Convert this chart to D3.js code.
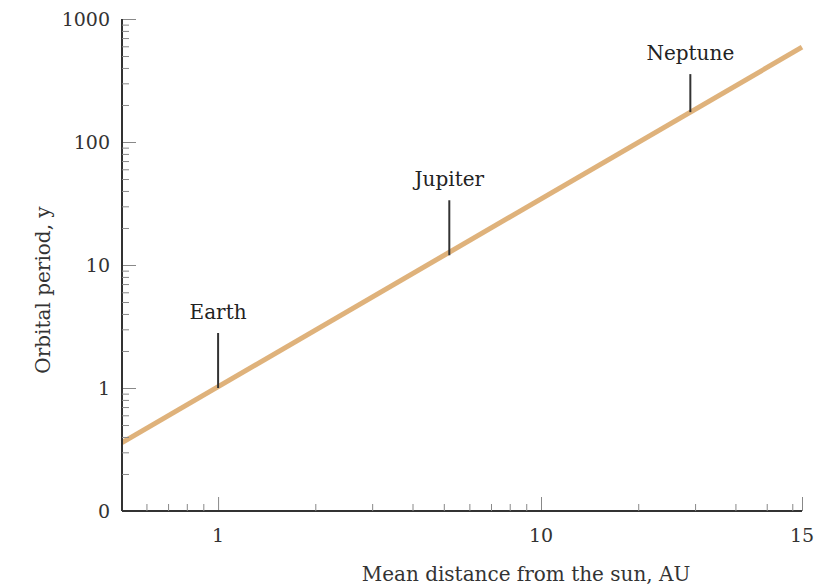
<!DOCTYPE html>
<html>
<head>
<meta charset="utf-8">
<script src="https://cdn.jsdelivr.net/npm/d3@7"></script>
<style>
  body { margin: 0; background: #fff; }
  svg { display: block; }
</style>
</head>
<body>
<svg></svg>
<script>
const WIDTH = 827;
const HEIGHT = 587;

// line drawn through the plot (AU, years)
const lineDistance = [0.504, 64.3];
const linePeriod = [0.36, 590];

// labelled planets
const planetNames = ["Earth", "Jupiter", "Neptune"];
const planetDistance = [1, 5.2, 29];
const planetPeriod = [1, 12, 175];
const markerLength = [55, 55, 38];

// axes
const xTicks = [1, 10, 64.3];
const xTickLabels = ["1", "10", "15"];
const xMinor = [0.6, 0.7, 0.8, 0.9, 2, 3, 4, 5, 6, 7, 8, 9, 20, 30, 40, 50, 60];
const yTicks = [0.1, 1, 10, 100, 1000];
const yTickLabels = ["0", "1", "10", "100", "1000"];
const yMinor = [];
[0.1, 1, 10, 100].forEach(d => { for (let k = 2; k <= 9; k++) yMinor.push(d * k); });

const FONT = "'DejaVu Serif', serif";
const INK = "#333";

var svg = d3.select("svg")
    .attr("width", WIDTH)
    .attr("height", HEIGHT);

var x = d3.scaleLog().domain([0.504, 64.3]).range([122, 802]);
var y = d3.scaleLog().domain([0.1, 1000]).range([511, 19]);

// data line
svg.append("path")
    .attr("d", d3.line().x(d => x(d[0])).y(d => y(d[1]))(d3.zip(lineDistance, linePeriod)))
    .attr("fill", "none")
    .attr("stroke", "#dfb27b")
    .attr("stroke-width", 5);

// x axis (ticks point up, into the plot)
var xAxis = svg.append("g").attr("transform", `translate(0,${y(0.1)})`);
xAxis.call(d3.axisTop(x).tickValues(xTicks).tickSize(14).tickFormat(""));
xAxis.append("g").call(d3.axisTop(x).tickValues(xMinor).tickSize(7).tickFormat(""));
xAxis.selectAll(".domain").attr("d", `M${x.range()[0]},0H${x.range()[1]}`);
xAxis.selectAll("path, line").attr("stroke", INK).attr("stroke-width", 2);
xAxis.selectAll("g g line").attr("stroke-width", 1).attr("stroke", "#888");

svg.append("g").selectAll("text")
    .data(xTicks)
    .join("text")
    .attr("x", d => x(d))
    .attr("y", y(0.1) + 31)
    .attr("text-anchor", "middle")
    .style("font-family", FONT)
    .style("font-size", "19px")
    .style("fill", INK)
    .text((d, i) => xTickLabels[i]);

// y axis (ticks point right, into the plot)
var yAxis = svg.append("g").attr("transform", `translate(${x.range()[0]},0)`);
yAxis.call(d3.axisRight(y).tickValues(yTicks.slice(1)).tickSize(14).tickFormat(""));
yAxis.append("g").call(d3.axisRight(y).tickValues(yMinor).tickSize(7).tickFormat(""));
yAxis.selectAll(".domain").attr("d", `M0,${y.range()[0]}V${y.range()[1]}`);
yAxis.selectAll("path, line").attr("stroke", INK).attr("stroke-width", 2);
yAxis.selectAll("g g line").attr("stroke-width", 1).attr("stroke", "#888");

svg.append("g").selectAll("text")
    .data(yTicks)
    .join("text")
    .attr("x", x.range()[0] - 12)
    .attr("y", d => y(d) + 7)
    .attr("text-anchor", "end")
    .style("font-family", FONT)
    .style("font-size", "19px")
    .style("fill", INK)
    .text((d, i) => yTickLabels[i]);

// axis titles
svg.append("text")
    .attr("x", 526)
    .attr("y", 581)
    .attr("text-anchor", "middle")
    .style("font-family", FONT)
    .style("font-size", "20px")
    .style("fill", INK)
    .text("Mean distance from the sun, AU");

svg.append("text")
    .attr("transform", `translate(50,290) rotate(-90)`)
    .attr("text-anchor", "middle")
    .style("font-family", FONT)
    .style("font-size", "20px")
    .style("fill", INK)
    .text("Orbital period, y");

// planet markers
var planets = svg.append("g").selectAll("g")
    .data(d3.range(planetNames.length))
    .join("g");

planets.append("line")
    .attr("x1", i => x(planetDistance[i]))
    .attr("x2", i => x(planetDistance[i]))
    .attr("y1", i => y(planetPeriod[i]))
    .attr("y2", i => y(planetPeriod[i]) - markerLength[i])
    .attr("stroke", INK)
    .attr("stroke-width", 2);

planets.append("text")
    .attr("x", i => x(planetDistance[i]))
    .attr("y", i => y(planetPeriod[i]) - markerLength[i] - 14)
    .attr("text-anchor", "middle")
    .style("font-family", FONT)
    .style("font-size", "20px")
    .style("fill", "#222")
    .text(i => planetNames[i]);
</script>
</body>
</html>
